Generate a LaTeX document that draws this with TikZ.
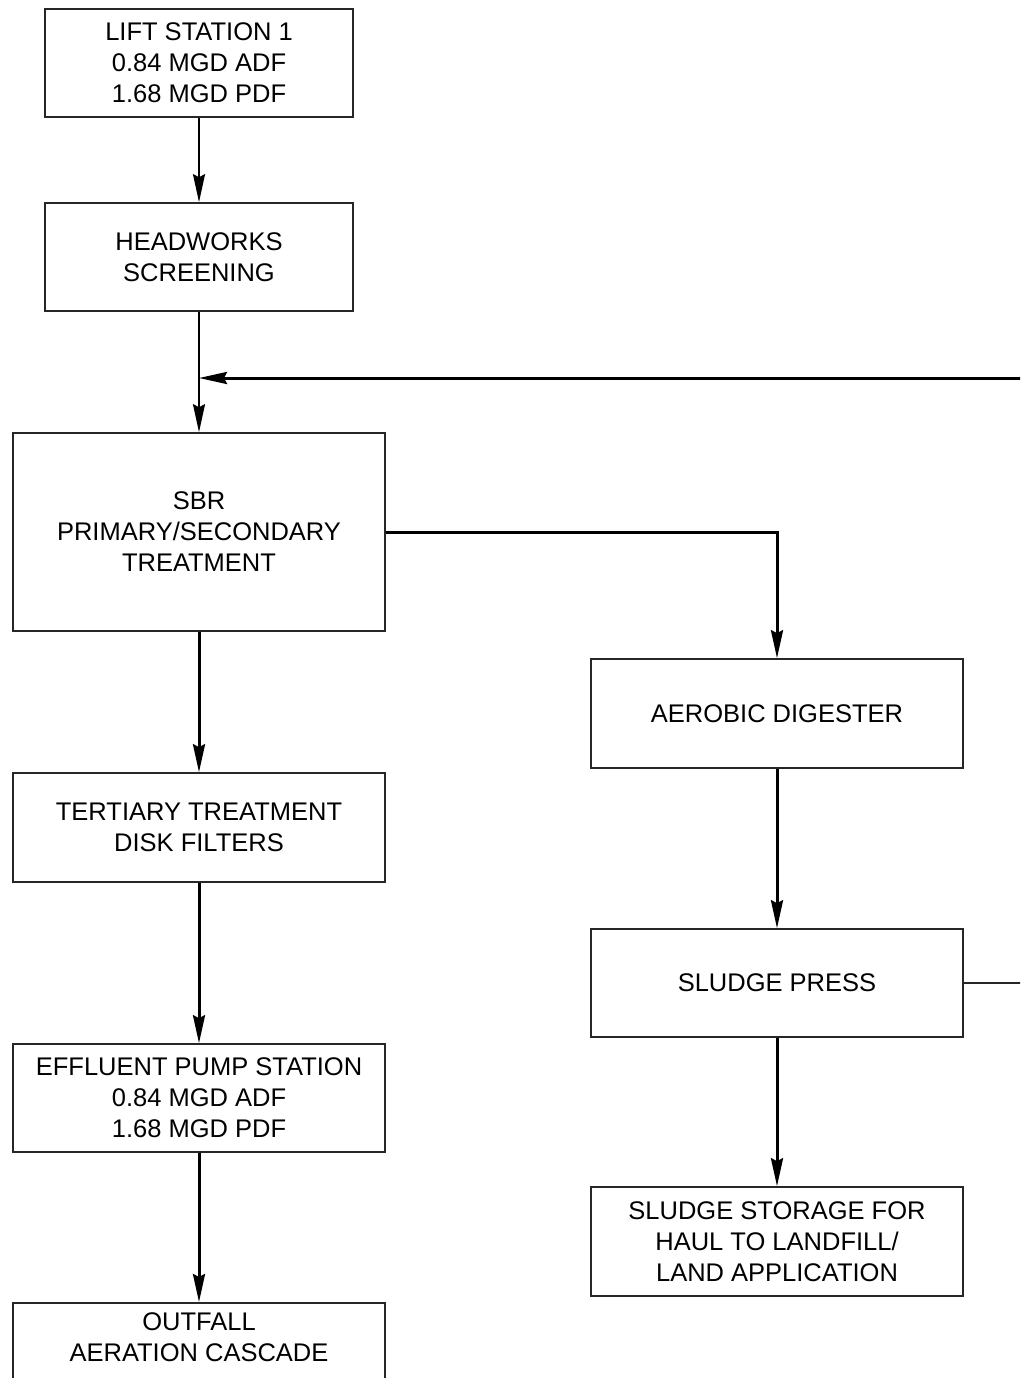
\documentclass[tikz,border=0pt]{standalone}
\usepackage{fontspec}
\setmainfont{Liberation Sans}
\usetikzlibrary{arrows.meta}
\begin{document}
\begin{tikzpicture}[x=1pt,y=-1pt,
  box/.style={draw=black!85, line width=1.6pt, rectangle, align=center, inner sep=0pt,
    font=\fontsize{25.5}{31}\selectfont, text=black},
  wide/.style={box, minimum width=372pt},
  narrow/.style={box, minimum width=308pt},
  flow/.style={draw=black, line width=3pt, -{Stealth[length=28pt,width=12pt,inset=3pt]}},
  flowthin/.style={draw=black, line width=2pt, -{Stealth[length=28pt,width=12pt,inset=3pt]}},
  stub/.style={draw=black!85, line width=1.6pt}
]
\useasboundingbox (0,0) rectangle (1020,1378);
\clip (0,0) rectangle (1020,1378);
\fill[white] (0,0) rectangle (1020,1378);

\node[narrow, minimum height=108pt] (lift) at (199,63) {LIFT STATION 1\\0.84 MGD ADF\\1.68 MGD PDF};
\node[narrow, minimum height=108pt] (head) at (199,257) {HEADWORKS\\SCREENING};
\node[wide, minimum height=198pt] (sbr) at (199,532) {SBR\\PRIMARY/SECONDARY\\TREATMENT};
\node[wide, minimum height=109pt] (tert) at (199,827.5) {TERTIARY TREATMENT\\DISK FILTERS};
\node[wide, minimum height=108pt] (eff) at (199,1098) {EFFLUENT PUMP STATION\\0.84 MGD ADF\\1.68 MGD PDF};
\node[wide, minimum height=118pt, anchor=north] (outfall) at (199,1302) {};
\node[font=\fontsize{25.5}{31}\selectfont, text=black, align=center, inner sep=0pt] (outfalltext) at (199,1337) {OUTFALL\\AERATION CASCADE};

\node[wide, minimum height=109pt] (aer) at (777,713.5) {AEROBIC DIGESTER};
\node[wide, minimum height=108pt] (press) at (777,983) {SLUDGE PRESS};
\node[wide, minimum height=109pt] (stor) at (777,1241.5) {SLUDGE STORAGE FOR\\HAUL TO LANDFILL/\\LAND APPLICATION};

\coordinate (j) at (199,378);
\coordinate (r1) at (1045,983);
\coordinate (r2) at (1045,378);

\draw[flowthin] (lift) -- (head);
\draw[flowthin] (head) -- (sbr);
\draw[stub] (press.east) -- (r1);
\draw[flow] (r1) -- (r2) -- (j);
\draw[flow] (sbr.east) -| (aer.north);
\draw[flow] (sbr) -- (tert);
\draw[flow] (tert) -- (eff);
\draw[flow] (eff) -- (outfall);
\draw[flow] (aer) -- (press);
\draw[flow] (press) -- (stor);
\end{tikzpicture}
\end{document}
